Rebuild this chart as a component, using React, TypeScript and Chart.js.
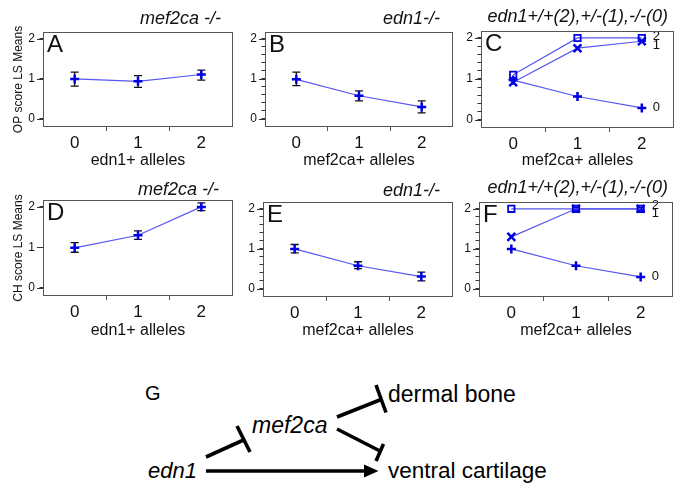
import React, { useEffect, useRef } from 'react';
import { Chart, registerables } from 'chart.js';

Chart.register(...registerables);

const FONT = "'Liberation Sans', Arial, Helvetica, sans-serif";
const LINE = '#5656f2';
const MARK = '#0000e0';
const AXIS = '#555555';

// ---------- data ----------
const xLabels = ['0', '1', '2'];
const yTickValues = [0, 1, 2];
const minorTickValues = [0.2, 0.4, 0.6, 0.8, 1.2, 1.4, 1.6, 1.8];

// A: OP score, mef2ca -/-, by edn1+ alleles
const opMefMean = [1.0, 0.94, 1.11];
const opMefLow = [0.82, 0.79, 0.97];
const opMefHigh = [1.17, 1.08, 1.22];

// B: OP score, edn1 -/-, by mef2ca+ alleles
const opEdnMean = [0.99, 0.58, 0.3];
const opEdnLow = [0.83, 0.45, 0.15];
const opEdnHigh = [1.17, 0.7, 0.45];

// C: OP score by mef2ca+ alleles, one line per edn1 genotype
const opEdn2 = [1.1, 2.0, 2.0];
const opEdn1 = [0.92, 1.75, 1.92];
const opEdn0 = [0.97, 0.57, 0.29];

// D: CH score, mef2ca -/-, by edn1+ alleles
const chMefMean = [0.99, 1.3, 2.0];
const chMefLow = [0.88, 1.2, 1.91];
const chMefHigh = [1.12, 1.41, 2.1];

// E: CH score, edn1 -/-, by mef2ca+ alleles
const chEdnMean = [1.0, 0.58, 0.31];
const chEdnLow = [0.9, 0.51, 0.2];
const chEdnHigh = [1.11, 0.68, 0.42];

// F: CH score by mef2ca+ alleles, one line per edn1 genotype
const chEdn2 = [2.0, 2.0, 2.0];
const chEdn1 = [1.3, 2.0, 2.0];
const chEdn0 = [1.0, 0.58, 0.3];

type Series = {
  data: number[];
  style: 'cross' | 'crossRot' | 'rect';
  low?: number[];
  high?: number[];
  endLabel?: string;
  endDy?: number;
};

type PanelProps = {
  left: number; top: number; width: number; height: number;
  padLeft: number; padTop: number; padRight: number;
  yWidth: number; xHeight: number;
  title: string; titleInset: number; titleRise: number;
  letter: string;
  yTitle?: string;
  xTitle: string;
  minor: boolean;
  series: Series[];
};

function Panel(p: PanelProps) {
  const ref = useRef<HTMLCanvasElement>(null);
  useEffect(() => {
    const tickVals = p.minor
      ? [...yTickValues, ...minorTickValues].sort((a, b) => a - b)
      : yTickValues;
    const isMajor = (v: number) => yTickValues.some((m) => Math.abs(m - v) < 1e-6);

    const decor = {
      id: 'decor',
      beforeDatasetsDraw(chart: any) {
        const ctx = chart.ctx;
        const ys = chart.scales.y;
        chart.data.datasets.forEach((ds: any, di: number) => {
          if (!ds.errLow) return;
          const meta = chart.getDatasetMeta(di);
          ctx.save();
          ctx.strokeStyle = '#111';
          ctx.lineWidth = 1.3;
          meta.data.forEach((pt: any, i: number) => {
            const x = pt.x;
            const y1 = ys.getPixelForValue(ds.errLow[i]);
            const y2 = ys.getPixelForValue(ds.errHigh[i]);
            ctx.beginPath();
            ctx.moveTo(x, y1); ctx.lineTo(x, y2);
            ctx.moveTo(x - 4, y1); ctx.lineTo(x + 4, y1);
            ctx.moveTo(x - 4, y2); ctx.lineTo(x + 4, y2);
            ctx.stroke();
          });
          ctx.restore();
        });
      },
      afterDatasetsDraw(chart: any) {
        const ctx = chart.ctx;
        chart.data.datasets.forEach((ds: any, di: number) => {
          if (!ds.endLabel) return;
          const meta = chart.getDatasetMeta(di);
          const last = meta.data[meta.data.length - 1];
          ctx.save();
          ctx.font = `13px ${FONT}`;
          ctx.fillStyle = '#111';
          ctx.textAlign = 'left';
          ctx.textBaseline = 'middle';
          ctx.fillText(ds.endLabel, last.x + 11, last.y + (ds.endDy || 0));
          ctx.restore();
        });
      },
      afterDraw(chart: any) {
        const ctx = chart.ctx;
        const a = chart.chartArea;
        const ys = chart.scales.y;
        ctx.save();
        ctx.strokeStyle = AXIS;
        ctx.lineWidth = 1;
        ctx.strokeRect(Math.round(a.left) + 0.5, Math.round(a.top) + 0.5,
          Math.round(a.right - a.left) - 1, Math.round(a.bottom - a.top) - 1);
        // lengthen the major y ticks
        ctx.strokeStyle = '#333';
        ctx.beginPath();
        yTickValues.forEach((v) => {
          const y = Math.round(ys.getPixelForValue(v)) + 0.5;
          ctx.moveTo(Math.round(a.left), y);
          ctx.lineTo(Math.round(a.left) - 6, y);
        });
        ctx.stroke();
        ctx.fillStyle = '#111';
        ctx.font = `italic 18px ${FONT}`;
        ctx.textAlign = 'right';
        ctx.textBaseline = 'alphabetic';
        ctx.fillText(p.title, a.right - p.titleInset, a.top - p.titleRise);
        ctx.font = `24px ${FONT}`;
        ctx.textAlign = 'left';
        ctx.fillText(p.letter, a.left + 4, a.top + 20);
        ctx.restore();
      },
    };

    const chart = new Chart(ref.current as HTMLCanvasElement, {
      type: 'line',
      data: {
        labels: xLabels,
        datasets: p.series.map((s) => ({
          data: s.data,
          borderColor: LINE,
          borderWidth: 1.2,
          tension: 0,
          pointStyle: s.style,
          pointRadius: s.style === 'crossRot' ? 5.5 : 4.5,
          pointBorderColor: MARK,
          pointBackgroundColor: s.style === 'rect' ? 'rgba(0,0,0,0)' : MARK,
          pointBorderWidth: s.style === 'rect' ? 1.8 : 2.5,
          errLow: s.low,
          errHigh: s.high,
          endLabel: s.endLabel,
          endDy: s.endDy,
        })) as any,
      },
      options: {
        responsive: false,
        animation: false,
        events: [],
        layout: { padding: { left: p.padLeft, top: p.padTop, right: p.padRight, bottom: 0 } },
        plugins: { legend: { display: false }, tooltip: { enabled: false }, title: { display: false } },
        scales: {
          x: {
            type: 'category',
            offset: true,
            grid: {
              offset: true,
              drawOnChartArea: false,
              drawTicks: true,
              tickLength: 4,
              color: AXIS,
              tickColor: (c: any) => (c.type === 'tick' && c.index > 0 ? AXIS : 'rgba(0,0,0,0)'),
            },
            border: { display: false },
            ticks: { font: { family: FONT, size: 17 }, color: '#111', padding: 2, maxRotation: 0 },
            title: {
              display: true,
              text: p.xTitle,
              font: { family: FONT, size: 16 },
              color: '#111',
              padding: { top: 0, bottom: 0 },
            },
            afterFit: (s: any) => { s.height = p.xHeight; },
          },
          y: {
            type: 'linear',
            min: -0.2,
            max: 2.17,
            afterBuildTicks: (s: any) => { s.ticks = tickVals.map((v) => ({ value: v })); },
            grid: { drawOnChartArea: false, tickLength: 3.5, color: '#333', tickColor: '#333', tickWidth: 1 },
            border: { display: false },
            ticks: {
              font: { family: FONT, size: 12 },
              color: '#111',
              padding: 4.5,
              autoSkip: false,
              callback: (v: any) => (isMajor(Number(v)) ? String(Math.round(Number(v))) : ''),
            },
            title: p.yTitle
              ? { display: true, text: p.yTitle, font: { family: FONT, size: 12 }, color: '#111', padding: { top: 11, bottom: 0 } }
              : { display: false },
            afterFit: (s: any) => { s.width = p.yWidth; },
          },
        },
      } as any,
      plugins: [decor],
    });
    return () => chart.destroy();
  }, []);
  return (
    <canvas
      ref={ref}
      width={p.width}
      height={p.height}
      style={{ position: 'absolute', left: p.left, top: p.top, width: p.width, height: p.height }}
    />
  );
}

function Diagram() {
  const sw = 3.6;
  return (
    <svg width={690} height={151} style={{ position: 'absolute', left: 0, top: 340 }}>
      <g fontFamily={FONT} fill="#000">
        <text x={145} y={60} fontSize={20}>G</text>
        <text x={252} y={93} fontSize={23} fontStyle="italic">mef2ca</text>
        <text x={388} y={62} fontSize={23}>dermal bone</text>
        <text x={388} y={138} fontSize={22.5}>ventral cartilage</text>
        <text x={148} y={138} fontSize={22} fontStyle="italic">edn1</text>
      </g>
      <g stroke="#000" strokeWidth={sw} fill="none">
        <line x1={206} y1={117} x2={243.5} y2={100} />
        <line x1={237} y1={86} x2={250} y2={112} />
        <line x1={337} y1={77} x2={381} y2={59.5} />
        <line x1={376} y1={45} x2={386} y2={72.5} />
        <line x1={337} y1={89} x2={380} y2={111} />
        <line x1={383.5} y1={104} x2={376} y2={121} />
        <line x1={206} y1={131} x2={366} y2={131} />
      </g>
      <polygon points="364,124.5 378.5,131 364,137.5" fill="#000" />
    </svg>
  );
}

export default function App() {
  return (
    <div style={{ position: 'absolute', left: 0, top: 0, width: 690, height: 491, background: '#fff', overflow: 'hidden' }}>
      <Panel left={0} top={0} width={240} height={170} padLeft={0} padTop={32} padRight={3}
        yWidth={43} xHeight={43} title="mef2ca -/-" titleInset={12} titleRise={8} letter="A"
        yTitle="OP score LS Means" xTitle="edn1+ alleles" minor={false}
        series={[{ data: opMefMean, style: 'cross', low: opMefLow, high: opMefHigh }]} />
      <Panel left={240} top={0} width={220} height={170} padLeft={0} padTop={32} padRight={4}
        yWidth={25} xHeight={43} title="edn1-/-" titleInset={13} titleRise={8} letter="B"
        xTitle="mef2ca+ alleles" minor={true}
        series={[{ data: opEdnMean, style: 'cross', low: opEdnLow, high: opEdnHigh }]} />
      <Panel left={460} top={0} width={230} height={170} padLeft={0} padTop={31} padRight={16}
        yWidth={21} xHeight={42} title="edn1+/+(2),+/-(1),-/-(0)" titleInset={6} titleRise={9} letter="C"
        xTitle="mef2ca+ alleles" minor={true}
        series={[
          { data: opEdn2, style: 'rect', endLabel: '2', endDy: -1.5 },
          { data: opEdn1, style: 'crossRot', endLabel: '1', endDy: 4 },
          { data: opEdn0, style: 'cross', endLabel: '0', endDy: -1 },
        ]} />
      <Panel left={0} top={170} width={240} height={170} padLeft={0} padTop={30} padRight={3}
        yWidth={43} xHeight={44} title="mef2ca -/-" titleInset={14} titleRise={5} letter="D"
        yTitle="CH score LS Means" xTitle="edn1+ alleles" minor={false}
        series={[{ data: chMefMean, style: 'cross', low: chMefLow, high: chMefHigh }]} />
      <Panel left={240} top={170} width={220} height={170} padLeft={0} padTop={32} padRight={4}
        yWidth={23} xHeight={43} title="edn1-/-" titleInset={13} titleRise={6} letter="E"
        xTitle="mef2ca+ alleles" minor={true}
        series={[{ data: chEdnMean, style: 'cross', low: chEdnLow, high: chEdnHigh }]} />
      <Panel left={460} top={170} width={230} height={170} padLeft={0} padTop={32} padRight={17}
        yWidth={19} xHeight={43} title="edn1+/+(2),+/-(1),-/-(0)" titleInset={5} titleRise={9} letter="F"
        xTitle="mef2ca+ alleles" minor={true}
        series={[
          { data: chEdn2, style: 'rect', endLabel: '2', endDy: -3 },
          { data: chEdn1, style: 'crossRot', endLabel: '1', endDy: 5 },
          { data: chEdn0, style: 'cross', endLabel: '0', endDy: -1 },
        ]} />
      <Diagram />
    </div>
  );
}
